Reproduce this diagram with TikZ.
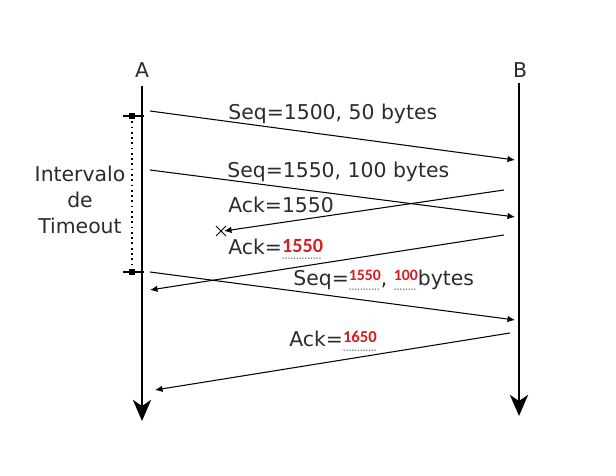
\documentclass[tikz,border=0pt]{standalone}
\usepackage{fontspec}
\setmainfont{DejaVu Sans}
\newfontfamily\rojofont{Carlito}
\usetikzlibrary{arrows.meta}
\definecolor{texto}{HTML}{2B2B2B}
\definecolor{rojo}{HTML}{D42020}
% campo: size, raise, number
\newcommand\campo[3]{%
  \setbox0\hbox{\rojofont\bfseries\fontsize{#1}{#1}\selectfont #3}%
  \rlap{\raisebox{-2.5pt}{\color{gray}\fontsize{7}{7}\selectfont\hbox to\wd0{\leaders\hbox to 1.6pt{\hss.\hss}\hfill}}}%
  \raisebox{#2}{\color{rojo}\box0}}
\tikzset{
  eje/.style={line width=1.7pt,-{Stealth[length=4.2mm,width=3.6mm,inset=1.2mm]}},
  msg/.style={line width=0.6pt,-{Latex[length=1.5mm,width=1.3mm]}},
  etq/.style={anchor=base west,inner sep=0pt,text=texto,font=\fontsize{11.6}{13}\selectfont},
}
\begin{document}
\begin{tikzpicture}[x=0.02cm,y=-0.02cm]
                \useasboundingbox (0,0) rectangle (616,476);
                \node[etq,anchor=base] (A) at (142,78) {A};
                \node[etq,anchor=base] (B) at (520,78) {B};
                \coordinate (a0) at (142,86); \coordinate (a1) at (142,421);
                \coordinate (b0) at (519,83); \coordinate (b1) at (519,416);
                \draw[eje](a0)--(a1);
                \draw[eje](b0)--(b1);
                % segmentos
                \coordinate (s1) at (150,111); \coordinate (r1) at (515,160);
                \coordinate (s2) at (150,170); \coordinate (r2) at (515,217);
                \coordinate (s3) at (504,190); \coordinate (r3) at (224,231);
                \coordinate (s4) at (504,235); \coordinate (r4) at (150,290);
                \coordinate (s5) at (150,272); \coordinate (r5) at (515,320);
                \coordinate (s6) at (510,333); \coordinate (r6) at (155,390);
                \draw[msg](s1)--(r1);
                \draw[msg](s2)--(r2);
                \draw[msg](s3)--(r3);
                \draw[msg](s4)--(r4);
                \draw[msg](s5)--(r5);
                \draw[msg](s6)--(r6);
                % perdido
                \coordinate (x) at (221,231);
                \draw[line width=0.6pt]([shift={(-5,-5)}]x)--([shift={(5,5)}]x);
                \draw[line width=0.6pt]([shift={(-5,5)}]x)--([shift={(5,-5)}]x);
                \node[etq] (l1) at (228,120) {Seq=1500, 50 bytes};
                \node[etq] (l2) at (227,178) {Seq=1550, 100 bytes};
                \node[etq] (l3) at (228,213) {Ack=1550};
                \node[etq] (l4) at (228,255) {Ack=\campo{11.5}{1.7pt}{1550}};
                \node[etq] (l5) at (293,286) {Seq=\campo{9}{3.4pt}{1550}, \campo{9}{3.4pt}{100}bytes};
                \node[etq] (l6) at (289,347) {Ack=\campo{9.5}{2.3pt}{1650}};
                % timeout
                \coordinate (t0) at (132,116); \coordinate (t1) at (132,272);
                \draw[line width=1pt,dotted](t0)--(t1);
                \draw[line width=0.6pt]([xshift=-5]t0)--([xshift=7]t0);
                \draw[line width=0.6pt]([xshift=-5]t1)--([xshift=7]t1);
                \fill(t0)+(-3,-3)rectangle+(3,3);
                \fill(t1)+(-3,-3)rectangle+(3,3);
                \node[etq,anchor=center,align=center,font=\fontsize{11.6}{14.8}\selectfont] (to) at (80,200) {Intervalo\\de\\Timeout};
\end{tikzpicture}
\end{document}
